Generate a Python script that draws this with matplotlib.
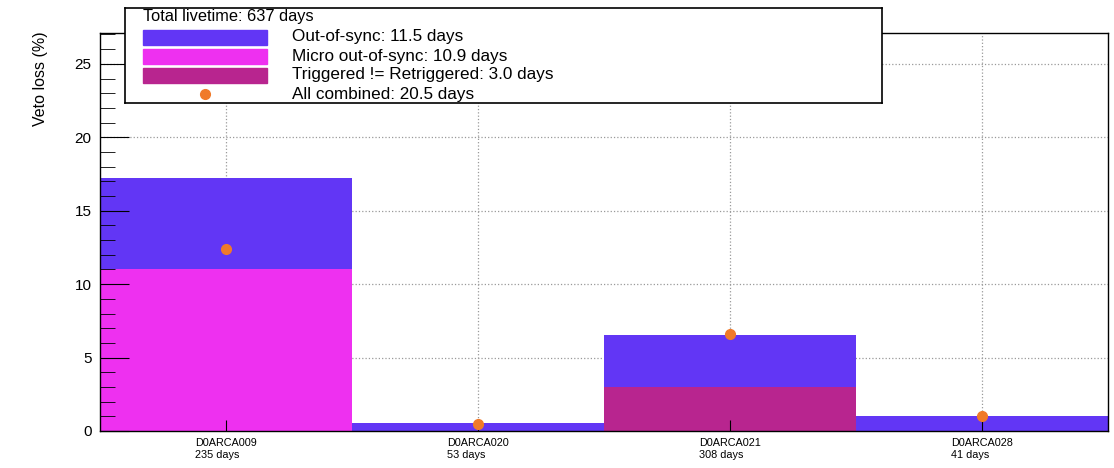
import matplotlib.pyplot as plt
from matplotlib.patches import Rectangle
from matplotlib.ticker import MultipleLocator

plt.rcParams['font.family'] = ['Liberation Sans', 'DejaVu Sans']

# detector units and their live time
units = ['D0ARCA009', 'D0ARCA020', 'D0ARCA021', 'D0ARCA028']
livetime_days = [235, 53, 308, 41]

# veto loss per unit (%)
out_of_sync = [17.2, 0.55, 6.55, 1.0]
micro_out_of_sync = [11.0, 0.0, 0.0, 0.0]
trig_not_retrig = [0.0, 0.0, 3.0, 0.0]
combined = [12.4, 0.5, 6.6, 1.0]

legend_labels = ['Out-of-sync: 11.5 days',
                 'Micro out-of-sync: 10.9 days',
                 'Triggered != Retriggered: 3.0 days',
                 'All combined: 20.5 days']
legend_title = 'Total livetime: 637 days'

c_oos = '#6236f5'
c_micro = '#ee30f0'
c_trig = '#b8258f'
c_dot = '#f07a2a'

fig = plt.figure(figsize=(11.14, 4.68), dpi=100)
ax = fig.add_axes([100 / 1114, 37 / 468, 1008 / 1114, 398 / 468])

x = list(range(len(units)))
ax.set_xlim(-0.5, len(units) - 0.5)
ax.set_ylim(0, 27.1)
ax.yaxis.set_major_locator(MultipleLocator(5))
ax.yaxis.set_minor_locator(MultipleLocator(1))

# dotted grid behind the bars, ticks on top of them
for yv in range(5, 30, 5):
    ax.axhline(yv, linestyle=':', color='#999999', linewidth=0.9, zorder=0.5)
for xv in x:
    ax.axvline(xv, linestyle=':', color='#999999', linewidth=0.9, zorder=0.5)

ax.bar(x, out_of_sync, width=1.0, color=c_oos, zorder=1)
ax.bar(x, micro_out_of_sync, width=1.0, color=c_micro, zorder=1.1)
ax.bar(x, trig_not_retrig, width=1.0, color=c_trig, zorder=1.2)
ax.plot(x, combined, 'o', color=c_dot, ms=7, zorder=4)

ax.set_xticks(x)
ax.set_xticklabels([f'{u}\n{d} days' for u, d in zip(units, livetime_days)],
                   fontsize=7.8, multialignment='left')
ax.tick_params(axis='y', which='major', direction='in', length=21, labelsize=11, pad=6)
ax.tick_params(axis='y', which='minor', direction='in', length=10.5)
ax.tick_params(axis='x', direction='in', length=8, pad=5)
ax.set_axisbelow(False)
for s in ax.spines.values():
    s.set_linewidth(1.0)
    s.set_zorder(5)

fig.text(40 / 1114, 1 - 31 / 468, 'Veto loss (%)', rotation=90,
         ha='center', va='top', fontsize=11.5)

# legend box drawn in pixel coordinates
lax = fig.add_axes([125 / 1114, 1 - 103 / 468, 757 / 1114, 95 / 468])
lax.set_xlim(0, 757)
lax.set_ylim(95, 0)
lax.set_xticks([])
lax.set_yticks([])
for s in lax.spines.values():
    s.set_linewidth(1.2)
lax.text(18, 9, legend_title, fontsize=11.8, va='center')
for i, c in enumerate([c_oos, c_micro, c_trig]):
    lax.add_patch(Rectangle((18, 22 + 19 * i), 124, 15, color=c))
lax.plot([80], [86], 'o', color=c_dot, ms=7)
for i, lab in enumerate(legend_labels):
    lax.text(167, 29 + 19 * i, lab, fontsize=12.3, va='center')

fig.savefig('out.png', dpi=100)
